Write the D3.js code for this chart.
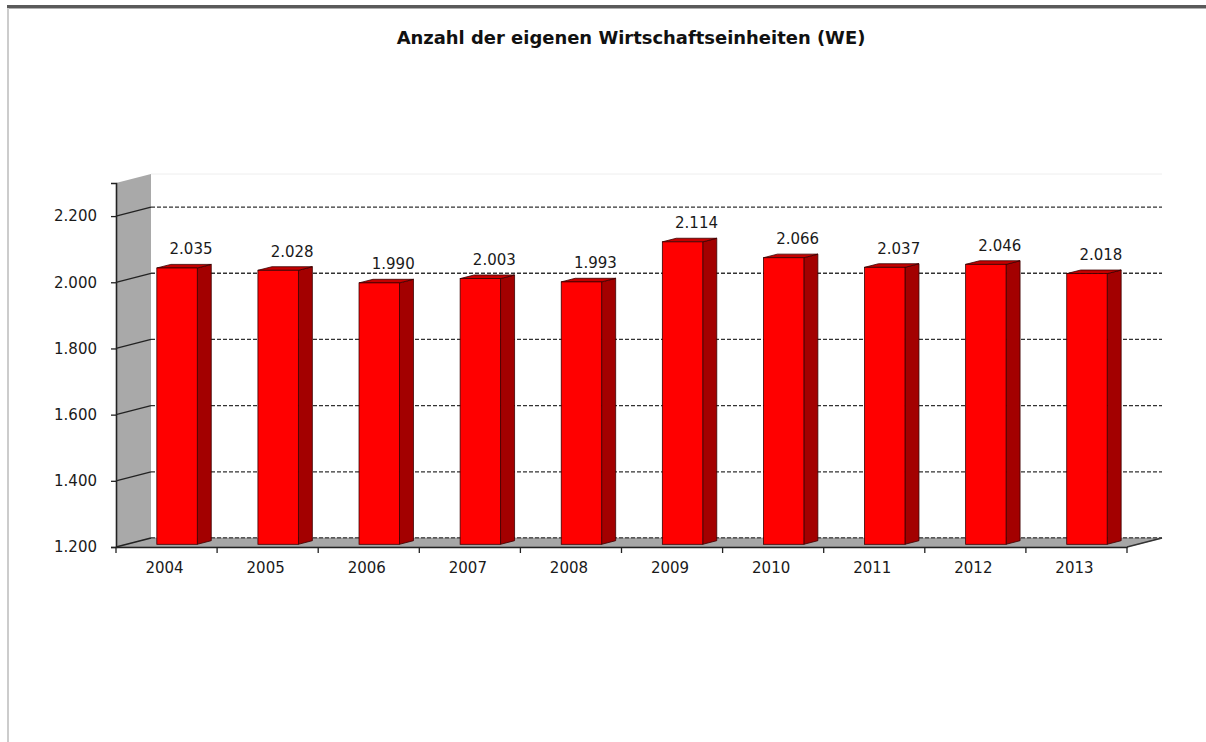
<!DOCTYPE html>
<html><head><meta charset="utf-8">
<script src="https://cdn.jsdelivr.net/npm/d3@7"></script>
<style>html,body{margin:0;padding:0;background:#fff;}svg{display:block;}</style>
</head><body>
<svg id="c" width="1206" height="742"></svg>
<script>
const title = "Anzahl der eigenen Wirtschaftseinheiten (WE)";
const years = ["2004","2005","2006","2007","2008","2009","2010","2011","2012","2013"];
const values = [2035,2028,1990,2003,1993,2114,2066,2037,2046,2018];
const yTicks = [1200,1400,1600,1800,2000,2200];
const yDomain = [1200,2300];

const svg = d3.select("#c");
const loc = d3.formatLocale({decimal:",", thousands:".", grouping:[3], currency:["","€"]});
const fmt = loc.format(",d");
const FONT = "DejaVu Sans, Verdana, sans-serif";
const FS = 15;

// frame
svg.append("rect").attr("x",7).attr("y",5).attr("width",1199).attr("height",3).attr("fill","#5a5a5a");
svg.append("rect").attr("x",7).attr("y",8).attr("width",1199).attr("height",1).attr("fill","#b0b0b0");
svg.append("rect").attr("x",7).attr("y",8).attr("width",2).attr("height",734).attr("fill","#cccccc");

// geometry
const L = 116, R = 1127, B = 547, T = 183;
const DX = 35, DY = -9, F = 0.3, G = 0.7;
const x = d3.scaleBand().domain(years).range([L,R]).paddingInner(0.6).paddingOuter(0.3);
const y = d3.scaleLinear().domain(yDomain).range([B,T]);
const step = x.step();

// title
const tt = svg.append("text").attr("x",631).attr("y",44).attr("text-anchor","middle")
  .attr("font-family",FONT).attr("font-weight","bold").attr("font-size",16).attr("fill","#111").text(title);
const w = tt.node().getComputedTextLength();
tt.attr("font-size", 16*469/w);

// back wall faint top
svg.append("line").attr("x1",L+DX).attr("x2",R+DX).attr("y1",T+DY).attr("y2",T+DY).attr("stroke","#eeeeee");

// back gridlines (dashed)
svg.append("g").selectAll("line").data(yTicks).join("line")
  .attr("x1",L+DX).attr("x2",R+DX)
  .attr("y1",d=>y(d)+DY).attr("y2",d=>y(d)+DY)
  .attr("stroke","#333").attr("stroke-width",1.3).attr("stroke-dasharray","4,2");

// left wall
svg.append("polygon")
  .attr("points",[[L,T],[L+DX,T+DY],[L+DX,B+DY],[L,B]].map(p=>p.join(",")).join(" "))
  .attr("fill","#a9a9a9");

// floor
svg.append("polygon")
  .attr("points",[[L,B],[R,B],[R+DX,B+DY],[L+DX,B+DY]].map(p=>p.join(",")).join(" "))
  .attr("fill","#a6a6a6").attr("stroke","#888").attr("stroke-width",0.6);
svg.append("line").attr("x1",R).attr("y1",B).attr("x2",R+DX).attr("y2",B+DY).attr("stroke","#333").attr("stroke-width",1.4);
// floor back dashed
svg.append("line").attr("x1",L+DX).attr("x2",R+DX).attr("y1",B+DY).attr("y2",B+DY)
  .attr("stroke","#444").attr("stroke-width",1.2).attr("stroke-dasharray","4,2");

// side wall grid lines (solid slanted)
svg.append("g").selectAll("line").data(yTicks).join("line")
  .attr("x1",L).attr("x2",L+DX).attr("y1",d=>y(d)).attr("y2",d=>y(d)+DY)
  .attr("stroke","#222").attr("stroke-width",1.3);

// y axis
const yAxis = svg.append("g").attr("transform",`translate(${L},0)`)
  .call(d3.axisLeft(y).tickValues(yTicks).tickFormat(fmt).tickSize(5).tickPadding(14));
yAxis.select(".domain").attr("stroke","#222").attr("stroke-width",1.6);
yAxis.selectAll(".tick line").attr("stroke","#222").attr("stroke-width",1.3);
yAxis.selectAll("text").attr("font-family",FONT).attr("font-size",FS).attr("fill","#1a1a1a");

// x axis
const xAxis = svg.append("g").attr("transform",`translate(0,${B})`)
  .call(d3.axisBottom(x).tickSize(0).tickPadding(15));
xAxis.select(".domain").attr("stroke","#222").attr("stroke-width",1.6);
xAxis.selectAll("text").attr("font-family",FONT).attr("font-size",FS).attr("fill","#1a1a1a").attr("dx",-2);
// category boundary ticks
svg.append("g").selectAll("line").data(d3.range(years.length+1)).join("line")
  .attr("x1",i=>L+i*step).attr("x2",i=>L+i*step).attr("y1",B).attr("y2",B+6)
  .attr("stroke","#222").attr("stroke-width",1.3);

// bars
const bw = x.bandwidth();
const bars = svg.append("g").selectAll("g").data(years.map((yr,i)=>({yr,v:values[i]}))).join("g");
const pts = a=>a.map(p=>p.join(",")).join(" ");
bars.each(function(d){
  const g = d3.select(this);
  const x0 = x(d.yr)+F*DX, x1 = x0+bw;
  const yt = y(d.v)+F*DY, yb = y(yDomain[0])+F*DY;
  const ddx = (G-F)*DX, ddy = (G-F)*DY;
  g.append("polygon").attr("points",pts([[x1,yt],[x1+ddx,yt+ddy],[x1+ddx,yb+ddy],[x1,yb]]))
    .attr("fill","#a30000").attr("stroke","#3a0000").attr("stroke-width",0.8).attr("stroke-linejoin","round");
  g.append("polygon").attr("points",pts([[x0,yt],[x0+ddx,yt+ddy],[x1+ddx,yt+ddy],[x1,yt]]))
    .attr("fill","#c40000").attr("stroke","#3a0000").attr("stroke-width",0.8).attr("stroke-linejoin","round");
  g.append("rect").attr("x",x0).attr("y",yt).attr("width",bw).attr("height",yb-yt)
    .attr("fill","#ff0000").attr("stroke","#3a0000").attr("stroke-width",0.8);
  g.append("text").attr("x",x(d.yr)+bw/2+G*DX).attr("y",y(d.v)+G*DY-10)
    .attr("text-anchor","middle").attr("font-family",FONT).attr("font-size",FS).attr("fill","#1a1a1a")
    .text(fmt(d.v));
});
</script>
</body></html>
